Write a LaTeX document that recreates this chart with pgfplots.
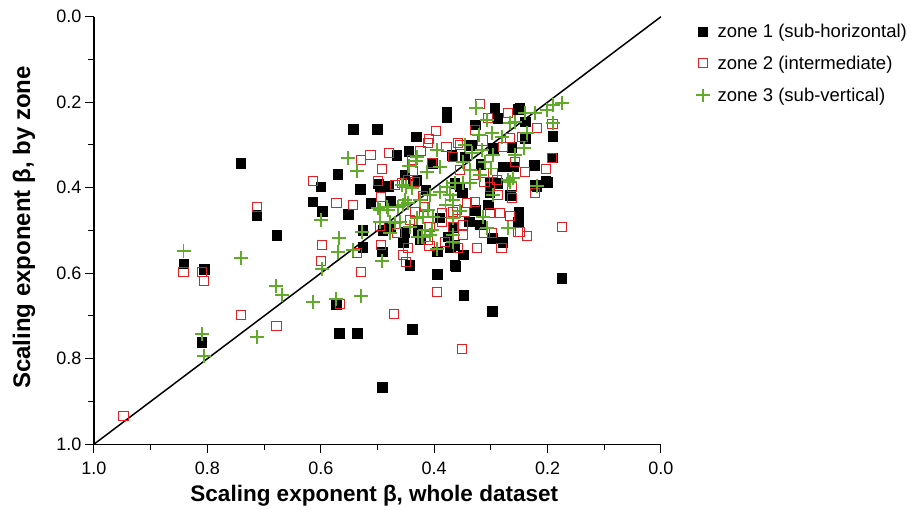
\documentclass[border=0pt]{standalone}
\usepackage{fontspec}
\setmainfont{Liberation Sans}
\usepackage{pgfplots}
\pgfplotsset{compat=1.18}
\definecolor{zred}{RGB}{228,32,36}
\definecolor{zgreen}{RGB}{96,172,42}
\begin{document}
\begin{tikzpicture}
\useasboundingbox (-94pt,-65.8pt) rectangle (817pt,444.2pt);
\begin{axis}[
  scale only axis, width=567pt, height=427.5pt,
  xmin=0, xmax=1, ymin=0, ymax=1,
  x dir=reverse, y dir=reverse,
  axis lines*=left,
  axis line style={line width=1.1pt, black, -},
  xtick={0,0.2,0.4,0.6,0.8,1}, ytick={0,0.2,0.4,0.6,0.8,1},
  minor tick num=1,
  tick align=outside,
  major tick length=9pt, minor tick length=6pt,
  tick style={line width=1pt, black},
  /pgf/number format/assume math mode=true,
  xticklabel style={/pgf/number format/.cd, fixed, fixed zerofill, precision=1, /tikz/.cd, yshift=-5pt},
  yticklabel style={/pgf/number format/.cd, fixed, fixed zerofill, precision=1},
  ticklabel style={font=\fontsize{18}{21}\selectfont},
  xlabel={Scaling exponent β, whole dataset},
  ylabel={Scaling exponent β, by zone},
  xlabel style={font=\bfseries\fontsize{22.5}{26}\selectfont, at={(axis description cs:0.4943,-0.120)}, anchor=center},
  ylabel style={font=\bfseries\fontsize{24}{28}\selectfont, at={(axis description cs:-0.1235,0.507)}, anchor=center},
  legend style={at={(1.062,0.988)}, anchor=north west, draw=none, fill=none,
    font=\fontsize{18.5}{22}\selectfont, row sep=13pt, column sep=6pt, inner sep=0pt},
  legend cell align=left,
  legend image post style={scale=0.95},
  clip=false,
]
\addplot[only marks, mark=square*, mark size=4.8pt, black] coordinates {
(0.741,0.342) (0.713,0.464) (0.678,0.511) (0.842,0.578) (0.806,0.590)
(0.810,0.761) (0.600,0.398) (0.570,0.368) (0.614,0.433) (0.598,0.455)
(0.573,0.672) (0.568,0.740) (0.536,0.740) (0.439,0.731) (0.443,0.581)
(0.395,0.602) (0.362,0.583) (0.175,0.611) (0.348,0.651) (0.298,0.689)
(0.492,0.866) (0.249,0.214) (0.240,0.246) (0.191,0.279) (0.240,0.284)
(0.224,0.347) (0.192,0.330) (0.203,0.384) (0.219,0.398) (0.251,0.457)
(0.252,0.480) (0.293,0.214) (0.252,0.216) (0.288,0.237) (0.328,0.253)
(0.378,0.223) (0.378,0.235) (0.543,0.263) (0.501,0.263) (0.432,0.281)
(0.445,0.314) (0.369,0.324) (0.466,0.324) (0.531,0.403) (0.452,0.370)
(0.404,0.342) (0.496,0.398) (0.552,0.462) (0.512,0.436) (0.478,0.431)
(0.499,0.391) (0.480,0.396) (0.438,0.391) (0.429,0.499) (0.452,0.504)
(0.455,0.527) (0.491,0.499) (0.526,0.499) (0.526,0.539) (0.492,0.550)
(0.395,0.550) (0.376,0.515) (0.364,0.534) (0.364,0.389) (0.289,0.389)
(0.222,0.394) (0.201,0.387) (0.302,0.410) (0.266,0.417) (0.355,0.398)
(0.351,0.412) (0.328,0.452) (0.305,0.440) (0.367,0.494) (0.349,0.557)
(0.319,0.487) (0.298,0.518) (0.279,0.527) (0.364,0.581) (0.296,0.307)
(0.346,0.328) (0.302,0.389) (0.279,0.351) (0.261,0.351) (0.263,0.305)
(0.431,0.382) (0.425,0.522) (0.478,0.494) (0.372,0.540) (0.415,0.405)
(0.335,0.300) (0.318,0.345) (0.390,0.470) (0.338,0.480)
};
\addlegendentry{zone 1 (sub-horizontal)}
\addplot[only marks, mark=square, mark size=4.7pt, zred, line width=1pt] coordinates {
(0.713,0.445) (0.842,0.597) (0.810,0.597) (0.806,0.618) (0.741,0.698)
(0.678,0.724) (0.948,0.934) (0.614,0.384) (0.572,0.436) (0.598,0.534)
(0.600,0.571) (0.529,0.597) (0.450,0.574) (0.566,0.672) (0.471,0.695)
(0.395,0.644) (0.351,0.778) (0.219,0.260) (0.191,0.251) (0.244,0.281)
(0.240,0.363) (0.203,0.356) (0.192,0.330) (0.222,0.412) (0.249,0.504)
(0.236,0.513) (0.175,0.492) (0.319,0.204) (0.270,0.225) (0.305,0.237)
(0.328,0.265) (0.266,0.284) (0.279,0.305) (0.258,0.340) (0.263,0.398)
(0.296,0.366) (0.289,0.382) (0.355,0.359) (0.355,0.300) (0.397,0.267)
(0.409,0.286) (0.424,0.314) (0.378,0.305) (0.367,0.328) (0.358,0.295)
(0.480,0.319) (0.512,0.324) (0.529,0.335) (0.492,0.356) (0.499,0.384)
(0.438,0.361) (0.434,0.387) (0.543,0.440) (0.494,0.422) (0.457,0.389)
(0.434,0.457) (0.416,0.445) (0.367,0.457) (0.386,0.459) (0.408,0.492)
(0.411,0.522) (0.466,0.506) (0.443,0.476) (0.536,0.553) (0.494,0.534)
(0.446,0.541) (0.455,0.557) (0.381,0.527) (0.367,0.492) (0.358,0.541)
(0.386,0.480) (0.311,0.387) (0.302,0.398) (0.288,0.417) (0.263,0.424)
(0.328,0.433) (0.342,0.436) (0.360,0.452) (0.346,0.457) (0.302,0.459)
(0.284,0.459) (0.266,0.466) (0.252,0.504) (0.349,0.487) (0.349,0.511)
(0.325,0.541) (0.298,0.506) (0.311,0.506) (0.281,0.541) (0.496,0.490)
(0.408,0.536) (0.469,0.394) (0.446,0.382) (0.438,0.335) (0.411,0.295)
(0.404,0.342) (0.330,0.370) (0.420,0.420) (0.315,0.290)
};
\addlegendentry{zone 2 (intermediate)}
\addplot[only marks, mark=+, mark size=7pt, zgreen, line width=1.8pt] coordinates {
(0.842,0.548) (0.741,0.564) (0.679,0.630) (0.669,0.651) (0.810,0.742)
(0.713,0.749) (0.806,0.794) (0.600,0.476) (0.568,0.518) (0.570,0.550)
(0.598,0.590) (0.614,0.667) (0.573,0.660) (0.492,0.571) (0.529,0.653)
(0.240,0.225) (0.222,0.225) (0.201,0.218) (0.191,0.207) (0.175,0.202)
(0.191,0.249) (0.236,0.272) (0.242,0.307) (0.219,0.396) (0.326,0.214)
(0.307,0.242) (0.321,0.277) (0.298,0.272) (0.266,0.249) (0.258,0.246)
(0.281,0.281) (0.258,0.324) (0.270,0.382) (0.261,0.377) (0.296,0.324)
(0.316,0.312) (0.349,0.340) (0.334,0.319) (0.311,0.340) (0.319,0.370)
(0.337,0.359) (0.364,0.389) (0.349,0.389) (0.552,0.330) (0.536,0.361)
(0.395,0.312) (0.432,0.338) (0.445,0.349) (0.390,0.351) (0.413,0.363)
(0.457,0.394) (0.450,0.398) (0.439,0.401) (0.499,0.447) (0.482,0.452)
(0.464,0.445) (0.446,0.436) (0.452,0.429) (0.425,0.429) (0.408,0.417)
(0.390,0.410) (0.378,0.398) (0.372,0.417) (0.411,0.452) (0.420,0.469)
(0.402,0.469) (0.416,0.499) (0.408,0.511) (0.429,0.515) (0.443,0.492)
(0.469,0.483) (0.461,0.480) (0.478,0.506) (0.496,0.480) (0.528,0.504)
(0.543,0.546) (0.395,0.543) (0.367,0.527) (0.337,0.389) (0.296,0.417)
(0.367,0.429) (0.314,0.469) (0.367,0.471) (0.307,0.494) (0.270,0.494)
(0.266,0.387) (0.478,0.480) (0.496,0.452) (0.483,0.445) (0.455,0.440)
(0.431,0.328) (0.422,0.515) (0.404,0.499) (0.367,0.511) (0.345,0.300)
(0.380,0.440) (0.355,0.455) (0.430,0.470) (0.300,0.355)
};
\addlegendentry{zone 3 (sub-vertical)}
\addplot[black, line width=1.5pt, no marks, forget plot] coordinates {(1,1) (0,0)};
\end{axis}
\end{tikzpicture}
\end{document}
